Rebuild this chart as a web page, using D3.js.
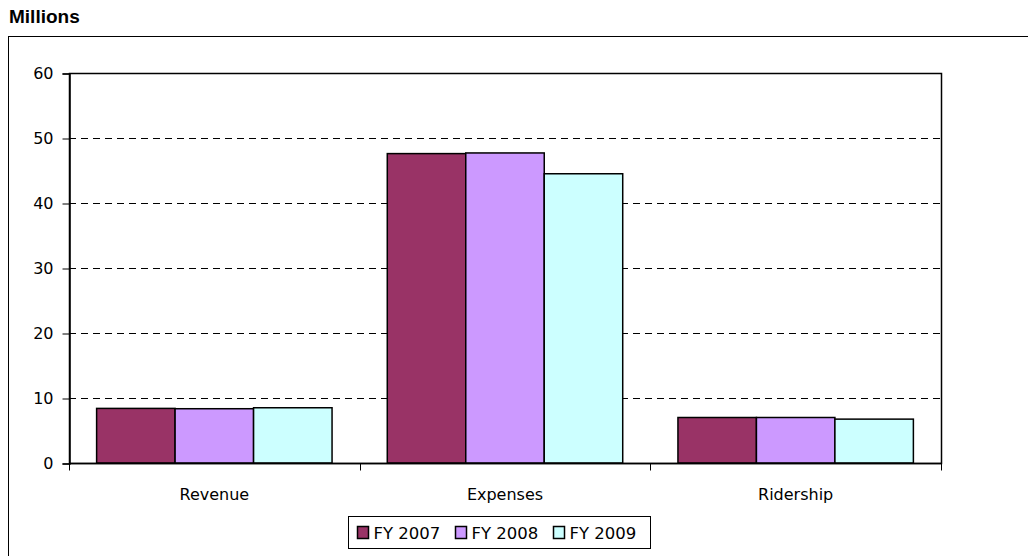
<!DOCTYPE html>
<html>
<head>
<meta charset="utf-8">
<script src="https://cdn.jsdelivr.net/npm/d3@7"></script>
<style>
  body { margin: 0; background: #fff; }
  svg { display: block; }
</style>
</head>
<body>
<svg id="chart" width="1028" height="556"></svg>
<script>
var categories = ["Revenue", "Expenses", "Ridership"]
var seriesNames = ["FY 2007", "FY 2008", "FY 2009"]
var fy2007 = [8.4, 47.6, 7.0]
var fy2008 = [8.35, 47.7, 7.0]
var fy2009 = [8.5, 44.5, 6.75]
var yTicks = [0, 10, 20, 30, 40, 50, 60]
var colors = ["#993366", "#cc99ff", "#ccffff"]

var allSeries = [fy2007, fy2008, fy2009]
var data = categories.map(function(c, i) {
  return { cat: c, values: seriesNames.map(function(s, j) { return { name: s, value: allSeries[j][i] } }) }
})

var svg = d3.select("#chart")
var font = "Tahoma, 'DejaVu Sans', sans-serif"

svg.append("text")
  .attr("x", 9).attr("y", 23)
  .style("font-family", "Arial, 'Liberation Sans', sans-serif")
  .style("font-weight", "bold").style("font-size", "19px")
  .text("Millions")

// outer frame (runs off right and bottom)
svg.append("rect")
  .attr("x", 8.5).attr("y", 36.5).attr("width", 1100).attr("height", 600)
  .attr("fill", "none").attr("stroke", "#000").attr("stroke-width", 1)

var margin = { left: 69, top: 73, right: 941, bottom: 463 }

var x = d3.scaleBand().domain(categories).range([margin.left, margin.right])
  .paddingInner(0.19).paddingOuter(0.095)
var xFull = d3.scaleBand().domain(categories).range([margin.left, margin.right])
var xSub = d3.scaleBand().domain(seriesNames).range([0, x.bandwidth()])
var y = d3.scaleLinear().domain([0, 60]).range([margin.bottom, margin.top])
var color = d3.scaleOrdinal().domain(seriesNames).range(colors)

// gridlines
svg.append("g").selectAll("line")
  .data(yTicks.filter(function(d) { return d > 0 && d < 60 }))
  .enter().append("line")
  .attr("x1", margin.left).attr("x2", margin.right)
  .attr("y1", function(d) { return Math.round(y(d)) + 0.5 })
  .attr("y2", function(d) { return Math.round(y(d)) + 0.5 })
  .attr("stroke", "#000").attr("stroke-dasharray", "7,5").attr("stroke-width", 1)

// plot border
svg.append("rect")
  .attr("x", margin.left + 0.5).attr("y", margin.top + 0.5)
  .attr("width", margin.right - margin.left).attr("height", margin.bottom - margin.top)
  .attr("fill", "none").attr("stroke", "#000").attr("stroke-width", 1.5)

// bars
svg.append("g").selectAll("g")
  .data(data).enter().append("g")
  .attr("transform", function(d) { return "translate(" + x(d.cat) + ",0)" })
  .selectAll("rect")
  .data(function(d) { return d.values }).enter().append("rect")
  .attr("x", function(d) { return xSub(d.name) })
  .attr("y", function(d) { return y(d.value) })
  .attr("width", xSub.bandwidth())
  .attr("height", function(d) { return y(0) - y(d.value) })
  .attr("fill", function(d) { return color(d.name) })
  .attr("stroke", "#000").attr("stroke-width", 1.5)

// y axis
var yAxis = svg.append("g")
  .attr("transform", "translate(" + (margin.left + 0.5) + ",0.5)")
  .call(d3.axisLeft(y).tickValues(yTicks).tickSize(7).tickPadding(9))
yAxis.select(".domain").attr("stroke-width", 1.5)
yAxis.selectAll("text").style("font-family", font).style("font-size", "16px").attr("fill", "#000")

// x axis: ticks at category boundaries
var xAxis = svg.append("g")
  .attr("transform", "translate(0," + (margin.bottom + 0.5) + ")")
xAxis.append("line")
  .attr("x1", margin.left).attr("x2", margin.right + 1)
  .attr("stroke", "#000").attr("stroke-width", 1.5)
xAxis.selectAll(".tk")
  .data(categories.concat(["end"])).enter().append("line")
  .attr("x1", function(d, i) { return Math.round(margin.left + i * xFull.step()) + 0.5 })
  .attr("x2", function(d, i) { return Math.round(margin.left + i * xFull.step()) + 0.5 })
  .attr("y1", 0).attr("y2", 7).attr("stroke", "#000")
xAxis.selectAll("text")
  .data(categories).enter().append("text")
  .attr("x", function(d) { return xFull(d) + xFull.bandwidth() / 2 })
  .attr("y", 36)
  .attr("text-anchor", "middle")
  .style("font-family", font).style("font-size", "16px")
  .text(function(d) { return d })

// legend
var legend = svg.append("g").attr("transform", "translate(348.5,516.5)")
legend.append("rect").attr("width", 302).attr("height", 32)
  .attr("fill", "#fff").attr("stroke", "#000").attr("stroke-width", 1)
var item = legend.selectAll(".item").data(seriesNames).enter().append("g")
  .attr("transform", function(d, i) { return "translate(" + (9 + i * 98) + ",0)" })
item.append("rect").attr("x", 0).attr("y", 10).attr("width", 11).attr("height", 12)
  .attr("fill", function(d) { return color(d) }).attr("stroke", "#000").attr("stroke-width", 1.5)
item.append("text").attr("x", 16).attr("y", 22)
  .style("font-family", font).style("font-size", "16.5px")
  .text(function(d) { return d })
</script>
</body>
</html>
